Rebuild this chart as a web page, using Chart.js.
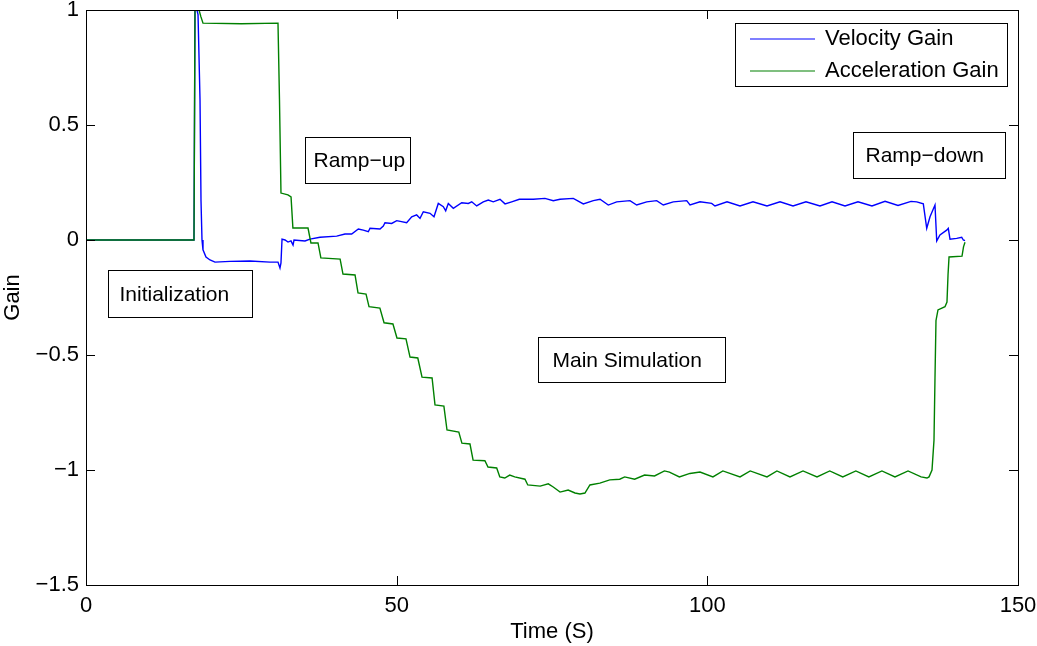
<!DOCTYPE html>
<html>
<head>
<meta charset="utf-8">
<script src="https://cdn.jsdelivr.net/npm/chart.js@4.4.1/dist/chart.umd.min.js"></script>
<style>
  html, body { margin: 0; padding: 0; background: #ffffff; }
  #wrap { width: 1037px; height: 646px; position: relative; }
</style>
</head>
<body>
<div id="wrap"><canvas id="c" width="1037" height="646"></canvas></div>
<script>
// ---- Data ----
const seriesNames = ['Velocity Gain', 'Acceleration Gain'];
const xTicks = [0, 50, 100, 150];
const yTicks = [-1.5, -1, -0.5, 0, 0.5, 1];

const velTime = [0, 17.38, 17.54, 17.86, 18.03, 18.35, 18.51, 18.67, 18.83, 19.31, 19.96, 20.76, 23.18, 26.4, 29.61, 30.9, 31.22, 31.38, 31.55, 32.03, 32.51, 32.99, 33.32, 33.48, 35.25, 36.05, 37.66, 40.35, 41.68, 42.76, 43.83, 44.63, 45.44, 45.71, 47.32, 47.85, 48.12, 49.2, 50.01, 51.61, 52.42, 53.22, 53.76, 54.29, 55.37, 56.01, 56.7, 57.51, 57.89, 58.31, 59.12, 60.47, 61.53, 62.08, 62.88, 63.94, 64.75, 65.55, 66.63, 67.44, 68.51, 69.74, 71.99, 73.87, 75.21, 76.29, 78.43, 80.04, 81.65, 82.73, 84.06, 85.41, 87.55, 88.63, 90.24, 91.85, 92.91, 94.52, 96.68, 97.21, 98.82, 100.7, 101.23, 103.17, 105.26, 107.35, 109.6, 111.7, 113.79, 115.88, 118.13, 120.07, 122.16, 124.25, 126.5, 128.6, 130.69, 132.78, 133.7, 134.76, 135.31, 135.84, 136.64, 136.92, 137.44, 138.52, 138.78, 139.06, 140.13, 140.94, 141.2, 141.47];
const velGain = [0, 0, 1.0, 1.0, 0.98, 0.61, 0.17, 0.0, -0.043, -0.074, -0.087, -0.096, -0.093, -0.091, -0.096, -0.096, -0.122, -0.1, 0.004, 0.0, -0.009, -0.004, -0.022, 0.0, -0.004, 0.004, 0.012, 0.017, 0.026, 0.026, 0.048, 0.043, 0.036, 0.051, 0.048, 0.061, 0.075, 0.072, 0.084, 0.075, 0.101, 0.109, 0.094, 0.123, 0.116, 0.101, 0.159, 0.145, 0.127, 0.159, 0.138, 0.162, 0.159, 0.166, 0.148, 0.166, 0.174, 0.166, 0.177, 0.157, 0.166, 0.177, 0.177, 0.181, 0.171, 0.177, 0.181, 0.157, 0.171, 0.177, 0.152, 0.166, 0.171, 0.152, 0.166, 0.171, 0.152, 0.166, 0.171, 0.152, 0.166, 0.159, 0.148, 0.166, 0.148, 0.166, 0.148, 0.166, 0.148, 0.166, 0.148, 0.166, 0.148, 0.166, 0.148, 0.168, 0.150, 0.168, 0.166, 0.157, 0.051, 0.101, 0.152, -0.004, 0.022, 0.043, 0.051, 0.003, 0.007, 0.012, 0.0, -0.003];

const accTime = [0, 17.38, 17.54, 18.19, 18.5, 18.83, 25, 30.9, 31.14, 31.38, 32.5, 33.0, 33.3, 35.73, 36.2, 37.34, 37.8, 40.9, 41.36, 43.3, 43.78, 45.07, 45.55, 47.3, 47.97, 49.4, 50.05, 51.5, 52.15, 53.4, 54.08, 55.7, 56.17, 57.6, 58.1, 60.0, 60.5, 61.8, 62.3, 64.2, 64.7, 66.1, 66.6, 67.4, 68.2, 69.0, 70.65, 71.1, 73.1, 74.4, 75.2, 76.3, 77.6, 78.7, 79.5, 80.3, 81.1, 82.7, 84.3, 85.9, 86.7, 88.3, 89.9, 91.5, 93.1, 93.9, 95.5, 97.2, 98.82, 100.9, 102.5, 105.26, 106.9, 109.6, 111.2, 113.3, 115.4, 117.65, 119.7, 121.8, 123.9, 126.0, 128.1, 130.2, 132.3, 134.4, 135.35, 135.68, 136.16, 136.48, 136.64, 136.8, 137.12, 138.25, 138.57, 138.74, 138.9, 140.99, 141.23, 141.47];
const accGain = [0, 0, 1.0, 1.0, 0.97, 0.943, 0.94, 0.943, 0.61, 0.204, 0.196, 0.187, 0.052, 0.052, -0.013, -0.013, -0.078, -0.083, -0.148, -0.152, -0.23, -0.235, -0.29, -0.296, -0.36, -0.365, -0.426, -0.43, -0.509, -0.513, -0.596, -0.6, -0.717, -0.722, -0.826, -0.835, -0.883, -0.887, -0.957, -0.96, -0.987, -0.991, -1.03, -1.035, -1.022, -1.03, -1.04, -1.065, -1.07, -1.06, -1.074, -1.096, -1.087, -1.1, -1.104, -1.1, -1.065, -1.057, -1.043, -1.04, -1.03, -1.04, -1.022, -1.026, -1.004, -1.009, -1.03, -1.015, -1.009, -1.03, -1.004, -1.03, -1.004, -1.03, -1.004, -1.03, -1.004, -1.03, -1.004, -1.03, -1.004, -1.03, -1.004, -1.03, -1.004, -1.03, -1.035, -1.03, -1.0, -0.87, -0.6, -0.35, -0.304, -0.29, -0.27, -0.15, -0.074, -0.07, -0.03, -0.01];

// Text annotations (phase labels)
const phaseLabels = ['Initialization', 'Ramp\u2212up', 'Main Simulation', 'Ramp\u2212down'];
const phaseAnchorX = [3.54, 35.25, 72.75, 123.45];
const phaseAnchorY = [-0.130, 0.448, -0.422, 0.470];

// ---- Styling ----
const FONT = '"Liberation Sans", Arial, Helvetica, sans-serif';
const FS = 22;
const FS_NOTE = 21;
const colors = ['#0000ff', '#008000'];
const boxSizes = [[144, 47, 11], [105, 46, 8], [187, 45, 14], [152, 46, 12]];

function toXY(t, v) {
  const n = Math.min(t.length, v.length);
  const out = [];
  for (let i = 0; i < n; i++) out.push({ x: t[i], y: v[i] });
  return out;
}
function fmt(v) {
  const s = String(Math.abs(v));
  return v < 0 ? '\u2212' + s : s;
}

const decor = {
  id: 'decor',
  afterDraw(chart) {
    const ctx = chart.ctx;
    const a = chart.chartArea;
    const xs = chart.scales.x, ys = chart.scales.y;
    ctx.save();
    // frame
    ctx.strokeStyle = '#000';
    ctx.lineWidth = 1;
    ctx.strokeRect(Math.round(a.left) + 0.5, Math.round(a.top) + 0.5, Math.round(a.right - a.left), Math.round(a.bottom - a.top));
    // inward ticks
    const TL = 9;
    ctx.beginPath();
    xTicks.forEach(v => {
      const px = Math.round(xs.getPixelForValue(v)) + 0.5;
      ctx.moveTo(px, a.bottom); ctx.lineTo(px, a.bottom - TL);
      ctx.moveTo(px, a.top); ctx.lineTo(px, a.top + TL);
    });
    yTicks.forEach(v => {
      const py = Math.round(ys.getPixelForValue(v)) + 0.5;
      ctx.moveTo(a.left, py); ctx.lineTo(a.left + TL, py);
      ctx.moveTo(a.right, py); ctx.lineTo(a.right - TL, py);
    });
    ctx.stroke();

    // axis titles
    ctx.fillStyle = '#000';
    ctx.font = FS + 'px ' + FONT;
    ctx.textAlign = 'center';
    ctx.textBaseline = 'middle';
    ctx.fillText('Time (S)', (a.left + a.right) / 2, 632);
    ctx.save();
    ctx.translate(13, (a.top + a.bottom) / 2);
    ctx.rotate(-Math.PI / 2);
    ctx.fillText('Gain', 0, 0);
    ctx.restore();

    // phase annotation boxes
    ctx.textAlign = 'left';
    ctx.font = FS_NOTE + 'px ' + FONT;
    phaseLabels.forEach((txt, i) => {
      const bx = Math.round(xs.getPixelForValue(phaseAnchorX[i])) + 0.5;
      const by = Math.round(ys.getPixelForValue(phaseAnchorY[i])) + 0.5;
      const [w, h, pad] = boxSizes[i];
      ctx.fillStyle = '#fff';
      ctx.fillRect(bx, by, w, h);
      ctx.strokeStyle = '#000';
      ctx.strokeRect(bx, by, w, h);
      ctx.fillStyle = '#000';
      ctx.fillText(txt, bx + pad, by + h / 2 + 1);
    });

    // legend
    ctx.font = FS + 'px ' + FONT;
    const lx = 735.5, ly = 23.5, lw = 272, lh = 63;
    ctx.fillStyle = '#fff';
    ctx.fillRect(lx, ly, lw, lh);
    ctx.strokeStyle = '#000';
    ctx.strokeRect(lx, ly, lw, lh);
    seriesNames.forEach((name, i) => {
      const yy = 39 + i * 32;
      ctx.strokeStyle = colors[i];
      ctx.lineWidth = 1.2;
      ctx.beginPath();
      ctx.moveTo(750, yy); ctx.lineTo(815, yy);
      ctx.stroke();
      ctx.fillStyle = '#000';
      ctx.fillText(name, 825, yy);
    });
    ctx.restore();
  }
};

new Chart(document.getElementById('c'), {
  type: 'scatter',
  data: {
    datasets: [
      { label: seriesNames[0], data: toXY(velTime, velGain), borderColor: colors[0], backgroundColor: colors[0], showLine: true, pointRadius: 0, borderWidth: 1.4, tension: 0, order: 2 },
      { label: seriesNames[1], data: toXY(accTime, accGain), borderColor: colors[1], backgroundColor: colors[1], showLine: true, pointRadius: 0, borderWidth: 1.4, tension: 0, order: 1 }
    ]
  },
  options: {
    responsive: false,
    animation: false,
    devicePixelRatio: 1,
    layout: { padding: { top: 10, right: 19, left: 0, bottom: 0 } },
    plugins: { legend: { display: false }, tooltip: { enabled: false } },
    scales: {
      x: {
        type: 'linear', min: 0, max: 150,
        afterBuildTicks: s => { s.ticks = xTicks.map(v => ({ value: v })); },
        afterFit: s => { s.height = 61; s.paddingLeft = 0; s.paddingRight = 0; },
        grid: { display: false, drawTicks: false },
        border: { display: false },
        ticks: { color: '#000', font: { family: FONT, size: FS }, padding: 8, maxRotation: 0, autoSkip: false, callback: v => fmt(v) }
      },
      y: {
        type: 'linear', min: -1.5, max: 1,
        afterBuildTicks: s => { s.ticks = yTicks.map(v => ({ value: v })); },
        afterFit: s => { s.width = 86; s.paddingTop = 0; s.paddingBottom = 0; },
        grid: { display: false, drawTicks: false },
        border: { display: false },
        ticks: { color: '#000', font: { family: FONT, size: FS }, padding: 7, autoSkip: false, callback: v => fmt(v) }
      }
    }
  },
  plugins: [decor]
});
</script>
</body>
</html>
